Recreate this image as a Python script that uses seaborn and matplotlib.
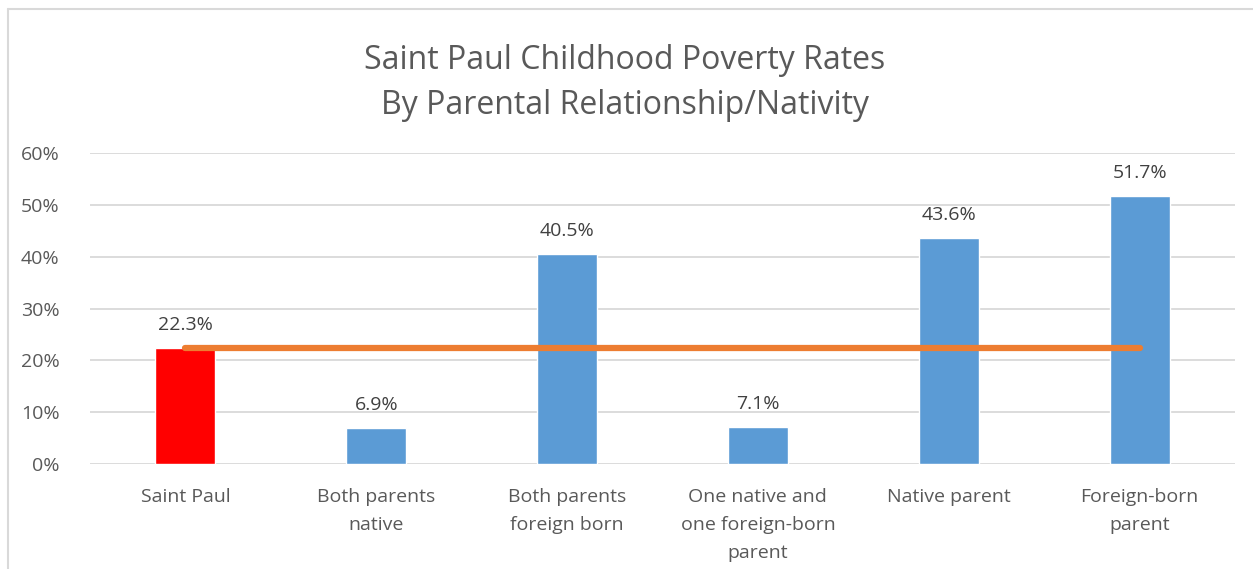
import numpy as np
import matplotlib
matplotlib.use('Agg')
import matplotlib.pyplot as plt
import seaborn as sns
from matplotlib.lines import Line2D

categories = ['Saint Paul', 'Both parents\nnative', 'Both parents\nforeign born',
              'One native and\none foreign-born\nparent', 'Native parent', 'Foreign-born\nparent']
rates = [22.3, 6.9, 40.5, 7.1, 43.6, 51.7]
city_rate = [22.3] * len(categories)
bar_colors = ['#FF0000', '#5B9BD5', '#5B9BD5', '#5B9BD5', '#5B9BD5', '#5B9BD5']
y_ticks = [0, 10, 20, 30, 40, 50, 60]

sns.set_style('white')
plt.rcParams['font.family'] = ['Open Sans', 'DejaVu Sans']

fig = plt.figure(figsize=(12.53, 5.69), dpi=100)
ax = fig.add_axes([90 / 1253, 1 - 464 / 569, (1235 - 90) / 1253, (464 - 153) / 569])

sns.barplot(x=categories, y=rates, hue=categories, palette=bar_colors, legend=False,
            width=0.315, ax=ax, saturation=1)
ax.plot(np.arange(len(categories)), city_rate, color='#ED7D31', linewidth=4.5,
        solid_capstyle='round', zorder=3)

for i, v in enumerate(rates):
    ax.text(i, v + 2.7, f'{v:.1f}%', ha='center', va='bottom', fontsize=14, color='#404040')

ax.set_ylim(0, 60)
ax.set_xlim(-0.5, len(categories) - 0.5)
ax.set_yticks(y_ticks)
ax.set_yticklabels([f'{t}%' for t in y_ticks])
ax.set_xticks(np.arange(len(categories)))
ax.set_xticklabels(categories, linespacing=1.72)
ax.yaxis.grid(True, color='#D9D9D9', linewidth=1.3)
ax.set_axisbelow(True)
for s in ax.spines.values():
    s.set_visible(False)
ax.tick_params(axis='both', length=0, labelsize=14, colors='#595959')
ax.tick_params(axis='y', pad=22)
ax.tick_params(axis='x', pad=17)

fig.text(625 / 1253, 1 - 83 / 569, 'Saint Paul Childhood Poverty Rates\nBy Parental Relationship/Nativity',
         ha='center', va='center', fontsize=23, color='#595959', linespacing=1.5)

# chart frame (cropped at right and bottom)
fig.add_artist(Line2D([8 / 1253, 1.0], [1 - 9 / 569, 1 - 9 / 569], transform=fig.transFigure,
                      color='#D9D9D9', linewidth=1.5))
fig.add_artist(Line2D([8 / 1253, 8 / 1253], [0, 1 - 9 / 569], transform=fig.transFigure,
                      color='#D9D9D9', linewidth=1.5))

fig.savefig('out.png', dpi=100)
